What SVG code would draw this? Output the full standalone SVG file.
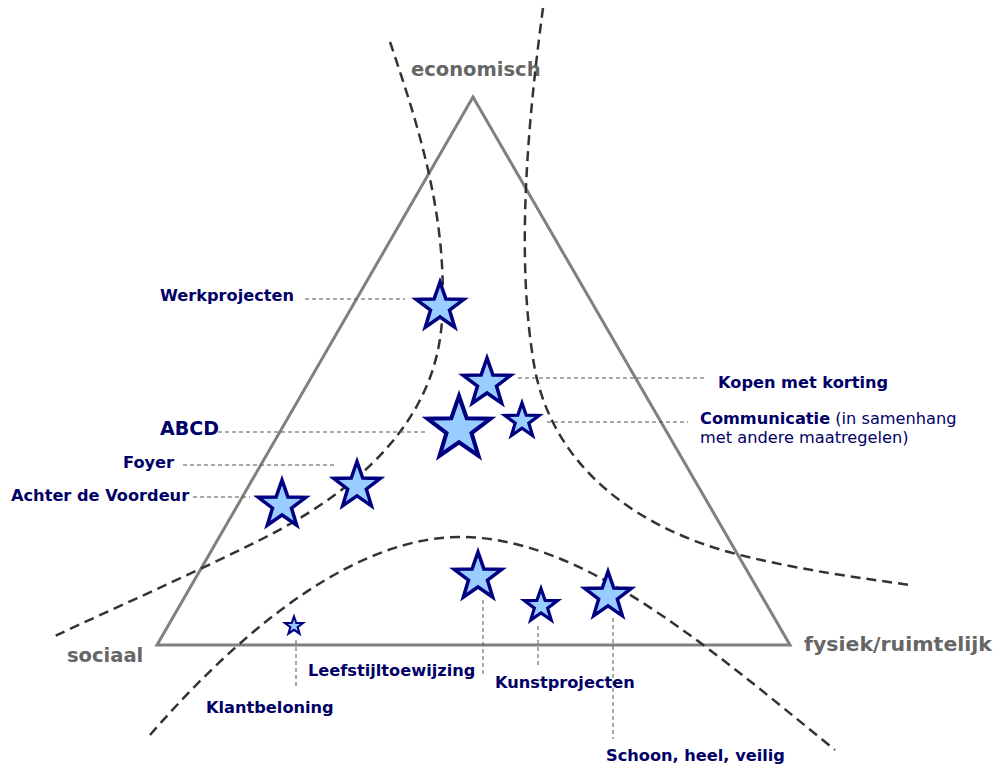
<svg xmlns="http://www.w3.org/2000/svg" xmlns:xlink="http://www.w3.org/1999/xlink" width="995" height="765" viewBox="0 0 995 765">
<defs>
<style>
.lbl{font-family:"DejaVu Sans",Verdana,sans-serif;font-weight:bold;font-size:16.2px;fill:#000066}
.norm{font-weight:normal}
.axis{font-family:"DejaVu Sans",Verdana,sans-serif;font-weight:bold;font-size:19.5px;fill:#666666}
.lead{fill:none;stroke:#555;stroke-width:1;stroke-dasharray:4 3}
.curve{fill:none;stroke:#333;stroke-width:2.5;stroke-dasharray:10 6}
.star{fill:#99ccff;stroke:#000080;stroke-linejoin:miter}
</style>
<path id="star" d="M0,-10 L2.351,-3.236 L9.511,-3.090 L3.804,1.236 L5.878,8.090 L0,4 L-5.878,8.090 L-3.804,1.236 L-9.511,-3.090 L-2.351,-3.236 Z"/>
</defs>
<rect width="995" height="765" fill="#ffffff"/>
<g id="triangle">
<polygon points="473,97 157,645 790,645" fill="none" stroke="#808080" stroke-width="3"/>
<text class="axis" x="411" y="76">economisch</text>
<text class="axis" x="67" y="662">sociaal</text>
<text class="axis" x="804" y="651" textLength="188" lengthAdjust="spacingAndGlyphs">fysiek/ruimtelijk</text>
</g>
<g id="connectors">
<path class="curve" d="M390,42 C420,130 448,220 442,320 C436,420 360,490 260,540 C190,575 110,610 55,636"/>
<path class="curve" d="M543,8 C528,120 515,260 535,370 C555,470 640,530 740,555 C800,570 860,578 910,585"/>
<path class="curve" d="M150,735 C250,620 360,537 460,537 C580,537 700,640 835,750"/>
<path class="lead" d="M305,299 H405"/>
<path class="lead" d="M218,432 H425"/>
<path class="lead" d="M183,465 H335"/>
<path class="lead" d="M193,497 H250"/>
<path class="lead" d="M518,378 H705"/>
<path class="lead" d="M547,422 H688"/>
<path class="lead" d="M483,600 V675"/>
<path class="lead" d="M296,640 V688"/>
<path class="lead" d="M538,626 V665"/>
<path class="lead" d="M613,618 V739"/>
</g>
<g id="werkprojecten">
<use xlink:href="#star" class="star" transform="translate(440,307) scale(2.5)" stroke-width="1.4"/>
<text class="lbl" x="160" y="301">Werkprojecten</text>
</g>
<g id="kopen">
<use xlink:href="#star" class="star" transform="translate(487,383) scale(2.5)" stroke-width="1.4"/>
<text class="lbl" x="718" y="388">Kopen met korting</text>
</g>
<g id="abcd">
<use xlink:href="#star" class="star" transform="translate(459,429) scale(3.3)" stroke-width="1.25"/>
<text class="lbl" x="160" y="435" style="font-size:19px">ABCD</text>
</g>
<g id="communicatie">
<use xlink:href="#star" class="star" transform="translate(522,421) scale(1.8)" stroke-width="1.8"/>
<text class="lbl" x="700" y="424">Communicatie<tspan class="norm"> (in samenhang</tspan></text>
<text class="lbl norm" x="700" y="443">met andere maatregelen)</text>
</g>
<g id="foyer">
<use xlink:href="#star" class="star" transform="translate(357,486) scale(2.45)" stroke-width="1.4"/>
<text class="lbl" x="123" y="468">Foyer</text>
</g>
<g id="achter">
<use xlink:href="#star" class="star" transform="translate(282,505) scale(2.5)" stroke-width="1.4"/>
<text class="lbl" x="11" y="501">Achter de Voordeur</text>
</g>
<g id="leefstijl">
<use xlink:href="#star" class="star" transform="translate(478,577) scale(2.5)" stroke-width="1.4"/>
<text class="lbl" x="308" y="676">Leefstijltoewijzing</text>
</g>
<g id="kunst">
<use xlink:href="#star" class="star" transform="translate(541,606) scale(1.75)" stroke-width="1.8"/>
<text class="lbl" x="495" y="688">Kunstprojecten</text>
</g>
<g id="schoon">
<use xlink:href="#star" class="star" transform="translate(608,596) scale(2.45)" stroke-width="1.4"/>
<text class="lbl" x="606" y="761">Schoon, heel, veilig</text>
</g>
<g id="klant">
<use xlink:href="#star" class="star" transform="translate(294,626) scale(0.95)" stroke-width="2.2"/>
<text class="lbl" x="206" y="713">Klantbeloning</text>
</g>
</svg>
